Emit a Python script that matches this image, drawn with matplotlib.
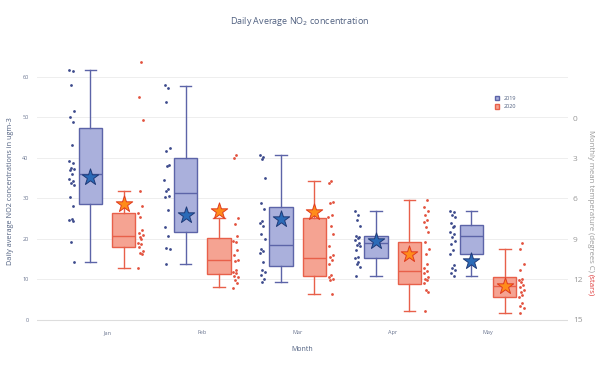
import numpy as np
import matplotlib
matplotlib.use("Agg")
from matplotlib import pyplot as plt
from matplotlib.patches import Patch

plt.rcParams['font.family'] = ['Open Sans', 'DejaVu Sans']

months = ['Jan', 'Feb', 'Mar', 'Apr', 'May']

# box stats: whisker low, q1, median, q3, whisker high
stats_2019 = {
    'whislo': [14.2, 13.8, 9.4, 10.8, 10.9],
    'q1':     [28.7, 21.7, 13.3, 15.2, 16.2],
    'med':    [36.0, 31.3, 18.6, 19.0, 20.6],
    'q3':     [47.3, 40.0, 27.8, 20.7, 23.5],
    'whishi': [61.6, 57.7, 40.7, 27.0, 27.0],
}
stats_2020 = {
    'whislo': [12.9, 8.1, 6.4, 2.3, 1.8],
    'q1':     [17.9, 11.3, 10.8, 8.8, 5.6],
    'med':    [20.6, 14.7, 15.4, 12.0, 8.4],
    'q3':     [26.5, 20.1, 25.2, 19.2, 10.5],
    'whishi': [31.7, 25.1, 34.2, 29.5, 17.4],
}

# daily points
points_2019 = [
    [61.6, 61.4, 57.9, 51.6, 50.1, 48.9, 43.2, 39.1, 38.7, 37.5, 37.2, 36.9, 35.9,
     34.8, 34.2, 33.7, 33.2, 30.3, 28.1, 25.0, 24.7, 24.3, 19.3, 14.2],
    [57.9, 57.2, 53.8, 42.4, 41.8, 38.2, 38.0, 34.6, 32.4, 31.9, 30.5, 30.3, 27.2,
     23.0, 20.7, 17.8, 17.5, 13.8],
    [40.7, 40.3, 39.7, 35.0, 28.9, 27.4, 24.3, 23.8, 23.2, 21.1, 19.9, 17.5, 17.0,
     16.5, 14.3, 12.3, 11.9, 11.0, 10.2, 9.4],
    [27.0, 26.0, 24.6, 23.2, 20.7, 20.5, 20.1, 19.7, 19.0, 18.6, 18.2, 17.2, 15.6,
     15.2, 14.3, 13.8, 13.1, 10.8],
    [27.0, 26.6, 25.8, 25.4, 23.9, 23.3, 22.9, 21.7, 21.3, 20.5, 19.4, 18.8, 17.2,
     16.2, 13.5, 12.9, 12.3, 11.5, 10.9],
]
points_2020 = [
    [63.7, 55.0, 49.3, 31.7, 28.1, 26.5, 25.3, 22.3, 21.4, 21.0, 20.4, 19.9, 19.1,
     18.7, 18.1, 16.9, 16.6, 16.3, 12.9],
    [40.7, 39.9, 25.1, 23.7, 20.7, 19.6, 19.2, 17.3, 16.1, 14.9, 14.5, 12.3, 11.9,
     11.5, 10.9, 10.5, 9.9, 9.0, 8.0],
    [34.4, 33.7, 29.1, 28.8, 25.8, 25.4, 23.3, 21.3, 18.2, 16.1, 15.5, 14.9, 13.9,
     11.0, 10.6, 10.2, 9.8, 6.4],
    [29.5, 27.9, 27.0, 25.8, 24.6, 24.1, 22.9, 21.7, 19.2, 17.6, 16.3, 13.9, 12.8,
     12.0, 11.5, 10.6, 10.2, 9.8, 9.0, 7.4, 6.9, 2.3],
    [19.0, 17.4, 13.8, 12.3, 10.2, 9.8, 9.4, 8.6, 8.2, 7.4, 7.0, 6.1, 5.7, 4.1,
     3.4, 2.9, 1.8],
]

# monthly mean temperature (stars)
temp_2019 = [4.4, 7.2, 7.5, 9.15, 10.6]
temp_2020 = [6.4, 6.9, 7.0, 10.1, 12.5]

c19_fill, c19_edge, c19_pt = '#aab0dc', '#5c64a8', '#3d4a8c'
c20_fill, c20_edge, c20_pt = '#f5a392', '#e8604a', '#e2523e'

fig = plt.figure(figsize=(6, 3.65), dpi=100)
ax = fig.add_axes([0.0617, 0.1178, 0.885, 0.7164])

x = np.arange(len(months))
off = 0.175
bw = 0.245


def make_stats(st):
    out = []
    for i in range(len(months)):
        out.append({'whislo': st['whislo'][i], 'q1': st['q1'][i], 'med': st['med'][i],
                    'q3': st['q3'][i], 'whishi': st['whishi'][i], 'fliers': []})
    return out


for st, pos, fill, edge in [(stats_2019, x - off, c19_fill, c19_edge),
                            (stats_2020, x + off, c20_fill, c20_edge)]:
    ax.bxp(make_stats(st), positions=pos, widths=bw, patch_artist=True,
           showfliers=False,
           boxprops=dict(facecolor=fill, edgecolor=edge, linewidth=1.0),
           medianprops=dict(color=edge, linewidth=1.0),
           whiskerprops=dict(color=edge, linewidth=1.0),
           capprops=dict(color=edge, linewidth=1.0),
           capwidths=bw * 0.5, zorder=3, manage_ticks=False)

# fixed jitter pattern for the points
jit = np.array([-0.8, 0.3, -0.2, 0.9, -0.5, 0.6, 0.0, -0.9, 0.4, -0.3, 0.8, -0.6, 0.2])
for i in range(len(months)):
    p = points_2019[i]
    j = np.resize(jit, len(p)) * 0.03
    ax.scatter(x[i] - 0.37 + j, p, s=4, color=c19_pt, zorder=4, linewidths=0)
    p = points_2020[i]
    j = np.resize(jit[::-1], len(p)) * 0.03
    ax.scatter(x[i] + 0.35 + j, p, s=4, color=c20_pt, zorder=4, linewidths=0)

ax.set_xlim(-0.735, 4.84)
ax.set_ylim(-0.5, 64.0)
ax.set_yticks(np.arange(0, 61, 10))
ax.set_xticks(x)
ax.set_xticklabels(months)
ax.tick_params(axis='both', length=0, labelsize=4, colors='#6a7590', pad=6)
ax.tick_params(axis='x', pad=6)
ax.grid(axis='y', color='#eeeeee', linewidth=0.7, zorder=0)
ax.axhline(0, color='#dddddd', linewidth=0.8, zorder=1)
for s in ax.spines.values():
    s.set_visible(False)
ax.set_axisbelow(True)

ax.set_ylabel('Daily average NO2 concentrations in ugm-3', fontsize=5.2, color='#506080', labelpad=6)
ax.set_xlabel('Month', fontsize=5, color='#506080', labelpad=8)

# temperature axis, reversed
ax2 = ax.twinx()
ax2.set_ylim(15.15, -4.28)
ax2.set_yticks(np.arange(0, 16, 3))
ax2.tick_params(axis='y', length=0, labelsize=6, colors='#999999', pad=3.5)
for s in ax2.spines.values():
    s.set_visible(False)
ax2.scatter(x - off, temp_2019, marker='*', s=155, color='#2b6bb8',
            edgecolors='#1f3a78', linewidths=0.7, zorder=6)
ax2.scatter(x + off, temp_2020, marker='*', s=155, color='#ff8c1a',
            edgecolors='#e03a1e', linewidths=0.7, zorder=6)

t1 = fig.text(0.984, 1 - 130 / 365, 'Monthly mean temperature (degrees C) ', rotation=-90,
              fontsize=5.6, color='#999999', ha='center', va='top')
fig.canvas.draw()
bb = t1.get_window_extent()
t2 = fig.text(0.984, bb.y0 / fig.bbox.height, '(stars)', rotation=-90, fontsize=5.6,
              color='#e03a3a', ha='center', va='top')

fig.text(0.5, 0.942, 'Daily Average NO$_2$ concentration', fontsize=6.5,
         color='#506080', ha='center', va='center')

handles = [Patch(facecolor=c19_fill, edgecolor=c19_edge, label='2019'),
           Patch(facecolor=c20_fill, edgecolor=c20_edge, label='2020')]
fig.legend(handles=handles, loc='upper left', bbox_to_anchor=(0.816, 0.752),
           frameon=False, fontsize=4, handlelength=0.8, handleheight=0.9,
           labelspacing=0.6, labelcolor='#506080', handletextpad=0.8)

fig.savefig('out.png', dpi=100)
